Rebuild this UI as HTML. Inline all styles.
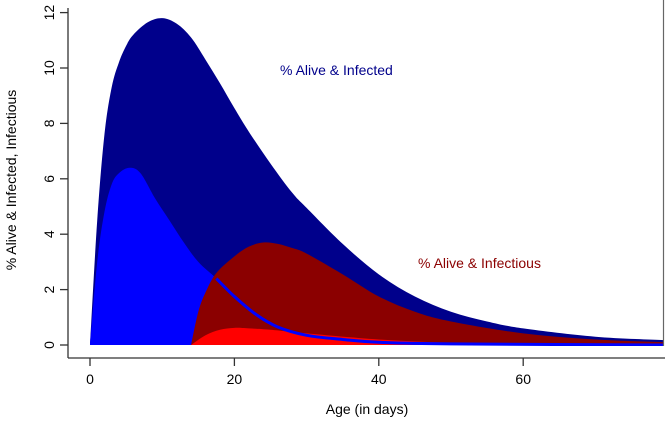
<!DOCTYPE html>
<html><head><meta charset="utf-8"><style>
body{margin:0;background:#fff}
svg{display:block;font-family:"Liberation Sans",sans-serif}
</style></head><body>
<svg width="670" height="421">
<g id="marks"></g>
<g id="axes"></g>
<line x1="663.5" y1="0" x2="663.5" y2="346" stroke="#666" stroke-width="1.2"/>
<text x="280" y="75" font-size="14" fill="#00008b">% Alive &amp; Infected</text>
<text x="418" y="268" font-size="14" fill="#8b0000">% Alive &amp; Infectious</text>
<text x="367" y="414" font-size="14" text-anchor="middle">Age (in days)</text>
<text transform="translate(16,180) rotate(-90)" font-size="14" text-anchor="middle">% Alive &amp; Infected, Infectious</text>
</svg>
<script>
const navyX=[0,1,2,3,4,5,6,8,10,12,14,16,18,20,22,25,28,30,35,40,45,50,55,60,70,80];
const navyY=[0,4.5,7.6,9.3,10.2,10.8,11.2,11.65,11.8,11.6,11.1,10.3,9.45,8.55,7.7,6.55,5.5,4.95,3.65,2.55,1.75,1.2,0.85,0.6,0.3,0.17];
const blueX=[0,1,2,3,4,5.5,7,9,11,13,15,17.5,20,23,26,30,35,40,50,80];
const blueY=[0,3,4.8,5.8,6.2,6.4,6.2,5.3,4.5,3.7,3.0,2.4,1.75,1.1,0.65,0.35,0.2,0.1,0.04,0];
const dredX=[14,15,16,17.5,20,22,24,26,28,30,35,40,45,50,60,70,80];
const dredY=[0,1.2,1.9,2.6,3.2,3.55,3.7,3.65,3.5,3.3,2.55,1.75,1.2,0.85,0.42,0.2,0.1];
const redX=[14,16,18,20,22,25,30,40,50,60,80];
const redY=[0,0.35,0.55,0.62,0.6,0.55,0.42,0.2,0.08,0.04,0.01];
const xTicks=[0,20,40,60];
const yTicks=[0,2,4,6,8,10,12];
const NS="http://www.w3.org/2000/svg";
const sx=d=>90+d*7.22, sy=v=>345-v*27.7;
function pts(xs,ys){return xs.map((x,i)=>[sx(x),sy(ys[i])]);}
function smooth(p){
 let d="";
 for(let i=0;i<p.length-1;i++){
  const p0=p[Math.max(i-1,0)],p1=p[i],p2=p[i+1],p3=p[Math.min(i+2,p.length-1)];
  const c1=[p1[0]+(p2[0]-p0[0])/6,p1[1]+(p2[1]-p0[1])/6];
  const c2=[p2[0]-(p3[0]-p1[0])/6,p2[1]-(p3[1]-p1[1])/6];
  d+="C"+c1[0]+","+c1[1]+" "+c2[0]+","+c2[1]+" "+p2[0]+","+p2[1];
 }
 return d;
}
const clip=document.createElementNS(NS,"clipPath");clip.setAttribute("id","pc");
const cr=document.createElementNS(NS,"rect");cr.setAttribute("x",68);cr.setAttribute("y",0);cr.setAttribute("width",596);cr.setAttribute("height",346);
clip.appendChild(cr);document.querySelector("svg").appendChild(clip);
document.getElementById("marks").setAttribute("clip-path","url(#pc)");
function area(xs,ys,fill,name){
 const p=pts(xs,ys);
 let d="M"+p[0][0]+","+sy(0)+"L"+p[0][0]+","+p[0][1]+smooth(p)+"L"+p[p.length-1][0]+","+sy(0)+"Z";
 const e=document.createElementNS(NS,"path");e.setAttribute("d",d);e.setAttribute("fill",fill);
 
 
 document.getElementById("marks").appendChild(e);
}
area(navyX,navyY,"#00008b","area-alive-infected");
area(blueX,blueY,"#0000ff","area-blue");
area(dredX,dredY,"#8b0000","area-alive-infectious");
area(redX,redY,"#ff0000","area-red");
{const all=pts(blueX,blueY);const p=all.filter((q,i)=>blueX[i]>=17.5);
 const e=document.createElementNS(NS,"path");e.setAttribute("d","M"+p[0][0]+","+p[0][1]+smooth(p));
 e.setAttribute("fill","none");e.setAttribute("stroke","#0000ff");e.setAttribute("stroke-width","3");
 
 
 document.getElementById("marks").appendChild(e);}
const ax=document.getElementById("axes");
function ln(x1,y1,x2,y2){const e=document.createElementNS(NS,"line");e.setAttribute("x1",x1);e.setAttribute("y1",y1);e.setAttribute("x2",x2);e.setAttribute("y2",y2);e.setAttribute("stroke","#333");e.setAttribute("stroke-width","1.3");ax.appendChild(e);return e;}
const xa=ln(68,358,665,358);
const ya=ln(68,8,68,358);
xTicks.forEach(t=>{ln(sx(t),358,sx(t),366);
 const e=document.createElementNS(NS,"text");e.setAttribute("x",sx(t));e.setAttribute("y",384);e.setAttribute("font-size","14");e.setAttribute("text-anchor","middle");e.textContent=t;
 
 
 ax.appendChild(e);});
yTicks.forEach(t=>{ln(60,sy(t),68,sy(t));
 const e=document.createElementNS(NS,"text");e.setAttribute("transform","translate(54,"+sy(t)+") rotate(-90)");e.setAttribute("font-size","14");e.setAttribute("text-anchor","middle");e.textContent=t;
 
 
 ax.appendChild(e);});
</script>
</body></html>
